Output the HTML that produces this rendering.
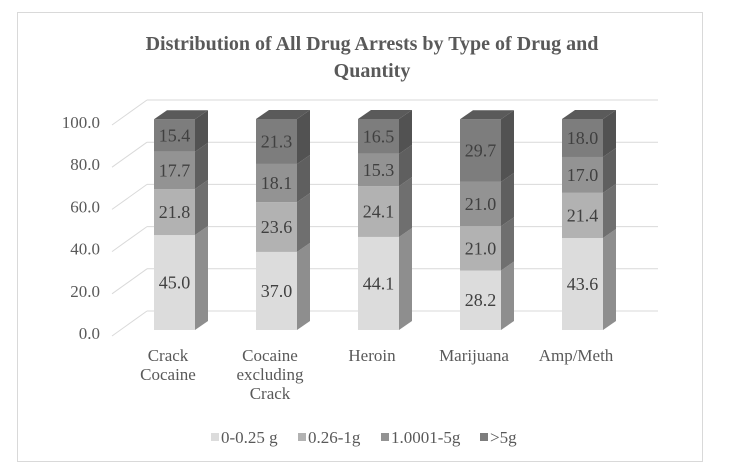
<!DOCTYPE html>
<html><head><meta charset="utf-8"><style>
body{margin:0;background:#fff;}
svg text{font-family:"Liberation Serif",serif;}
</style></head><body>
<svg id="s" width="743" height="470" xmlns="http://www.w3.org/2000/svg">
<rect x="17.5" y="12.5" width="685" height="449" fill="#fff" stroke="#d9d9d9"/>
<text x="372" y="50" text-anchor="middle" font-size="20" font-weight="bold" fill="#595959">Distribution of All Drug Arrests by Type of Drug and</text>
<text x="372" y="77" text-anchor="middle" font-size="20" font-weight="bold" fill="#595959">Quantity</text>
<g id="g"></g>
</svg>
<script>
var g=document.getElementById('g'),h='';
function Y(v){return 330-2.11*v;}
for(var i=0;i<=5;i++){var v=i*20,y=Y(v);
h+='<line x1="112" y1="'+(y+6)+'" x2="147" y2="'+(y-19)+'" stroke="#d9d9d9"/>';
h+='<line x1="147" y1="'+(y-19)+'" x2="658" y2="'+(y-19)+'" stroke="#d9d9d9"/>';
h+='<text x="100" y="'+(y+9)+'" text-anchor="end" font-size="17" fill="#595959">'+v.toFixed(1)+'</text>';}
var data=[[45.0,21.8,17.7,15.4],[37.0,23.6,18.1,21.3],[44.1,24.1,15.3,16.5],[28.2,21.0,21.0,29.7],[43.6,21.4,17.0,18.0]];
var fr=['#dcdcdc','#b2b2b2','#939393','#7d7d7d'],sd=['#8e8e8e','#6f6f6f','#5f5f5f','#525252'];
var dx=13,dy=9,w=41;
data.forEach(function(d,k){var x=154+k*102,c=0;
d.forEach(function(v,j){var y0=Y(c),y1=Y(c+v);c+=v;
h+='<rect x="'+x+'" y="'+y1+'" width="'+w+'" height="'+(y0-y1)+'" fill="'+fr[j]+'"/>';
h+='<polygon points="'+(x+w)+','+y0+' '+(x+w+dx)+','+(y0-dy)+' '+(x+w+dx)+','+(y1-dy)+' '+(x+w)+','+y1+'" fill="'+sd[j]+'"/>';
h+='<text x="'+(x+w/2)+'" y="'+((y0+y1)/2+6)+'" text-anchor="middle" font-size="18" fill="#404040">'+v.toFixed(1)+'</text>';});
var yt=Y(c);
h+='<polygon points="'+x+','+yt+' '+(x+dx)+','+(yt-dy)+' '+(x+w+dx)+','+(yt-dy)+' '+(x+w)+','+yt+'" fill="#5a5a5a"/>';});
var labs=[['Crack','Cocaine'],['Cocaine','excluding','Crack'],['Heroin'],['Marijuana'],['Amp/Meth']];
labs.forEach(function(l,k){var x=168+k*102;l.forEach(function(t,i){
h+='<text x="'+x+'" y="'+(361+i*19)+'" text-anchor="middle" font-size="17" fill="#595959">'+t+'</text>';});});
var lg=[['0-0.25 g',211,'#dcdcdc'],['0.26-1g',298,'#b2b2b2'],['1.0001-5g',381,'#939393'],['>5g',480,'#7d7d7d']];
lg.forEach(function(e){h+='<rect x="'+e[1]+'" y="433" width="8" height="8" fill="'+e[2]+'"/>';
h+='<text x="'+(e[1]+10)+'" y="443" font-size="17" fill="#595959">'+e[0].replace('>','&gt;')+'</text>';});
g.innerHTML=h;
</script>
</body></html>
